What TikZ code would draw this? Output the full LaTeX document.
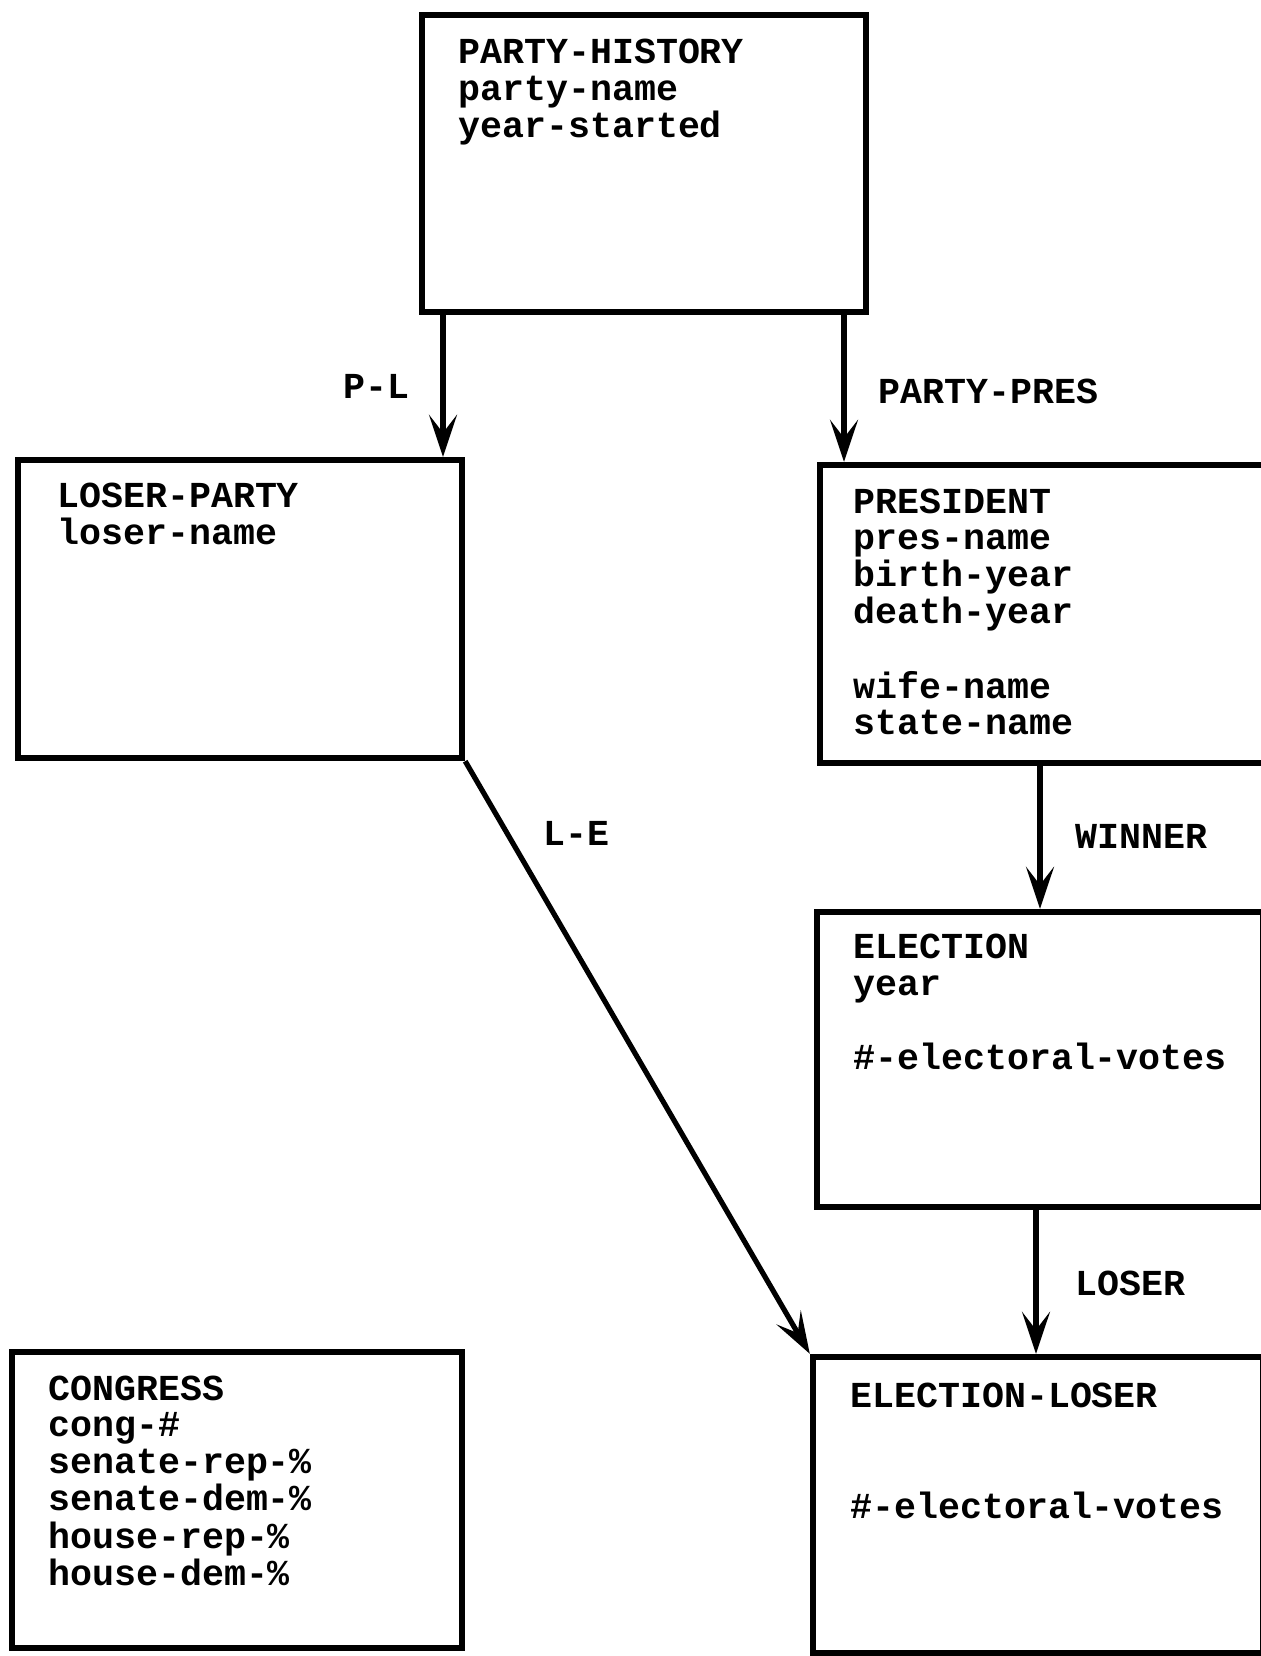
\documentclass[tikz,border=0pt]{standalone}
\usepackage{fontspec}
\newfontfamily\typ{Liberation Mono}
\usetikzlibrary{arrows.meta,fit,calc}
\begin{document}
\begin{tikzpicture}[x=0.5pt,y=-0.5pt,
  box/.style={draw, line width=3.2pt, inner sep=0pt},
  txt/.style={anchor=base west, inner sep=0pt, font=\typ\bfseries\fontsize{18.3}{18.5}\selectfont},
  conn/.style={line width=2.6pt, -{Stealth[length=21pt,width=14pt,inset=9pt]}}]
\useasboundingbox (0,0) rectangle (1260,1656);
\fill[white] (0,0) rectangle (1260,1656);
% boxes
\node[box, fit={(422,15) (866,312)}] (ph) {};
\node[box, fit={(18,460) (462,758)}] (lp) {};
\node[box, fit={(820,465) (1275,763)}] (pr) {};
\node[box, fit={(817,912) (1263,1207)}] (el) {};
\node[box, fit={(813,1357) (1263,1653)}] (ell) {};
\node[box, fit={(12,1352) (462,1648)}] (cg) {};
% box texts
\node[txt] (pht) at (458,63) {\begin{tabular}[t]{@{}l@{}}PARTY-HISTORY\\party-name\\year-started\end{tabular}};
\node[txt] (lpt) at (57,507) {\begin{tabular}[t]{@{}l@{}}LOSER-PARTY\\loser-name\end{tabular}};
\node[txt] (prt) at (853,513) {\fontsize{18.3}{18.1}\selectfont\begin{tabular}[t]{@{}l@{}}PRESIDENT\\pres-name\\birth-year\\death-year\\ \\wife-name\\state-name\end{tabular}};
\node[txt] (elt) at (853,958) {\begin{tabular}[t]{@{}l@{}}ELECTION\\year\\ \\\#-electoral-votes\end{tabular}};
\node[txt] (ellt) at (850,1407) {\begin{tabular}[t]{@{}l@{}}ELECTION-LOSER\\ \\ \\\#-electoral-votes\end{tabular}};
\node[txt] (cgt) at (48,1400) {\fontsize{18.3}{18.3}\selectfont\begin{tabular}[t]{@{}l@{}}CONGRESS\\cong-\#\\senate-rep-\%\\senate-dem-\%\\house-rep-\%\\house-dem-\%\end{tabular}};
% connectors
\coordinate (plx) at (443,0);
\coordinate (ppx) at (844,0);
\coordinate (wnx) at (1040,0);
\coordinate (lsx) at (1036,0);
\draw[conn] (plx |- ph.south) -- (plx |- lp.north);
\draw[conn] (ppx |- ph.south) -- (ppx |- pr.north);
\draw[conn] (wnx |- pr.south) -- (wnx |- el.north);
\draw[conn] (lsx |- el.south) -- (lsx |- ell.north);
\draw[conn] (lp.south east) -- (ell.north west);
% labels
\node[txt] (lpl) at (343,398) {P-L};
\node[txt] (lpp) at (878,403) {PARTY-PRES};
\node[txt] (lle) at (543,845) {L-E};
\node[txt] (lwn) at (1075,848) {WINNER};
\node[txt] (lls) at (1075,1295) {LOSER};
\end{tikzpicture}
\end{document}
